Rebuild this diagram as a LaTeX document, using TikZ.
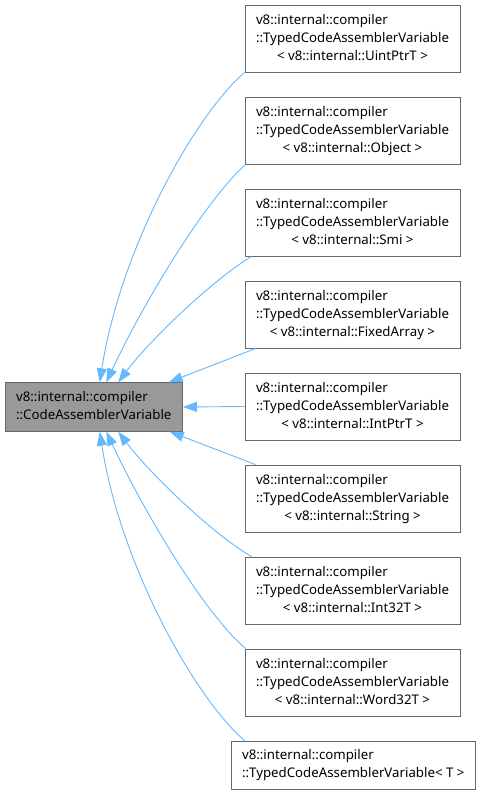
\documentclass[tikz,border=0pt]{standalone}
\usepackage{fontspec}
\setmainfont{Noto Sans}
\usetikzlibrary{arrows.meta}
\definecolor{edgeblue}{HTML}{63B8FF}
\definecolor{boxborder}{HTML}{666666}
\definecolor{basefill}{HTML}{999999}
\newlength\reflen
\newcommand{\clsA}[1]{\begin{tabular}{@{}l@{}}v8::internal::compiler\\::TypedCodeAssemblerVariable\\\multicolumn{1}{@{}c@{}}{< v8::internal::#1 >}\end{tabular}}
\begin{document}%
\settowidth\reflen{\fontsize{10}{12}\selectfont ::TypedCodeAssemblerVariable}%
\pgfmathsetmacro\fs{10*193/\reflen}%
\begin{tikzpicture}[x=1pt,y=-1pt]
\tikzset{
  cls/.style={draw=boxborder, line width=0.9pt, fill=white, inner sep=0pt,
    font=\fontsize{\fs}{18}\selectfont, minimum width=215, minimum height=67},
  basecls/.style={cls, fill=basefill, minimum width=177.5, minimum height=48.5},
  lastcls/.style={cls, minimum width=243.5, minimum height=48},
  inh/.style={draw=edgeblue, line width=0.9pt, {Triangle[length=14pt,width=10pt]}-}
}
\useasboundingbox (0,0) rectangle (480,796);
\node[basecls] (base) at (93.75,407) {\begin{tabular}{@{}l@{}}v8::internal::compiler\\::CodeAssemblerVariable\end{tabular}};
\node[cls] (b1) at (352.5,38.5) {\clsA{UintPtrT}};
\node[cls] (b2) at (352.5,130.5) {\clsA{Object}};
\node[cls] (b3) at (352.5,222.5) {\clsA{Smi}};
\node[cls] (b4) at (352.5,314.5) {\clsA{FixedArray}};
\node[cls] (b5) at (352.5,406.5) {\clsA{IntPtrT}};
\node[cls] (b6) at (352.5,498.5) {\clsA{String}};
\node[cls] (b7) at (352.5,590.5) {\clsA{Int32T}};
\node[cls] (b8) at (352.5,682.5) {\clsA{Word32T}};
\node[lastcls] (b9) at (353.25,765) {\begin{tabular}{@{}l@{}}v8::internal::compiler\\::TypedCodeAssemblerVariable< T >\end{tabular}};
% edges (tip at base)
\draw[inh] ([xshift=6]base.north) .. controls +(20.5,-133) and +(-50,43) .. (b1.south west);
\draw[inh] ([xshift=12.5]base.north) .. controls +(39,-83) and +(-40,36) .. ([xshift=1]b2.south west);
\draw[inh] ([xshift=24.5]base.north) .. controls +(32,-43) and +(-37,22) .. ([xshift=7]b3.south west);
\draw[inh] ([xshift=75]base.north) -- ([xshift=11]b4.south west);
\draw[inh] (base.east) -- (b5.west);
\draw[inh] ([xshift=76]base.south) -- ([xshift=11]b6.north west);
\draw[inh] ([xshift=24.5]base.south) .. controls +(32,42.5) and +(-37,-21) .. ([xshift=7]b7.north west);
\draw[inh] ([xshift=12.5]base.south) .. controls +(39,82.5) and +(-41,-35) .. ([xshift=1]b8.north west);
\draw[inh] ([xshift=6]base.south) .. controls +(20.5,132.5) and +(-50,-43) .. ([xshift=13.5]b9.north west);
\end{tikzpicture}
\end{document}
